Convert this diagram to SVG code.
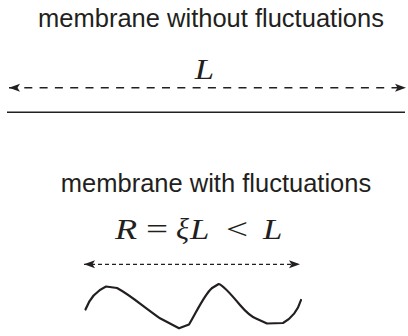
<svg xmlns="http://www.w3.org/2000/svg" width="408" height="336" viewBox="0 0 408 336">
<style>
.title{font-family:"Liberation Sans",Arial,sans-serif;font-size:25.5px;fill:#231f20;text-anchor:middle}
.math{font-family:"Liberation Serif","Times New Roman",serif;font-size:29px;fill:#231f20}
.it{font-style:italic}
.dash1{stroke:#231f20;stroke-width:1.6;fill:none;stroke-dasharray:8 7.3}
.dash2{stroke:#231f20;stroke-width:1.3;fill:none;stroke-dasharray:4 3}
</style>
<defs>
<marker id="ah" markerUnits="userSpaceOnUse" markerWidth="12" markerHeight="10" refX="11" refY="5" orient="auto-start-reverse" viewBox="0 0 12 10">
<path d="M0,1 L11,5 L0,9 L2.5,5 Z" fill="#231f20"/>
</marker>
</defs>
<g id="top-title"><text class="title" x="211" y="27">membrane without fluctuations</text></g>
<g id="top-label"><text class="math it" transform="translate(204.5,78.5) scale(1.2,1)" text-anchor="middle">L</text></g>
<g id="flat-membrane"><line x1="7" y1="112.3" x2="405" y2="112.3" stroke="#231f20" stroke-width="1.4"/></g>
<g id="bottom-title"><text class="title" x="216" y="192">membrane with fluctuations</text></g>
<g id="bottom-label">
<text class="math it" transform="translate(115,239) scale(1.25,1)">R</text>
<text class="math" transform="translate(146,239) scale(1.35,1)">=</text>
<text class="math it" transform="translate(176,239) scale(1.05,1)">ξ</text>
<text class="math it" transform="translate(190,239) scale(1.2,1)">L</text>
<text class="math" transform="translate(226,239) scale(1.35,1)">&lt;</text>
<text class="math it" transform="translate(263,239) scale(1.2,1)">L</text>
</g>
<g id="wavy-membrane"><path d="M85.5,309.5 C89,300 96,291 106,286.5 L117,288 C130,295 140,304 160,318.3 L179,328.3 L189,324.5 C196,313 204,295 211.7,288.3 L218.7,284 C223,285 230,293 240,305 C246,312 250,316 256,318.5 L267,323.5 L283,323 C292,318 298,310 301,300" fill="none" stroke="#231f20" stroke-width="2.2" stroke-linejoin="round" stroke-linecap="round"/></g>
<g id="connectors">
<line class="dash1" x1="9" y1="87.7" x2="406" y2="87.7" marker-start="url(#ah)" marker-end="url(#ah)"/>
<line class="dash2" x1="84" y1="264.3" x2="300" y2="264.3" marker-start="url(#ah)" marker-end="url(#ah)"/>
</g>
</svg>
